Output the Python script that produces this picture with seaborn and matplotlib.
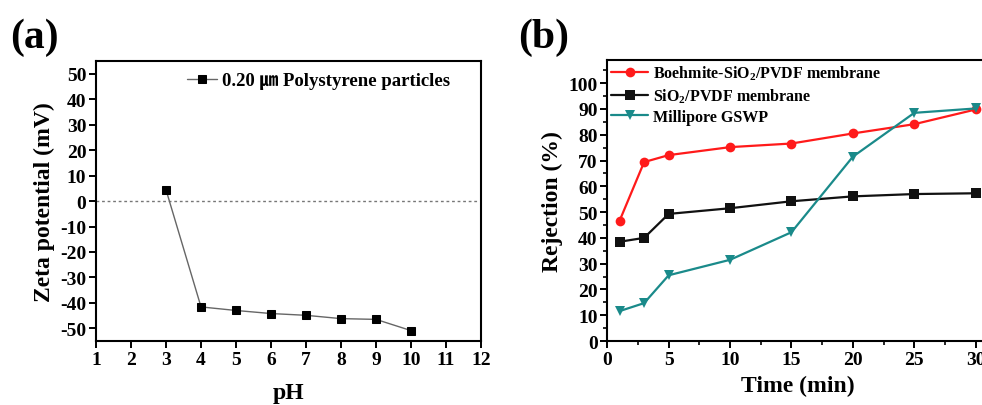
import matplotlib
matplotlib.use("Agg")
import matplotlib.pyplot as plt
from matplotlib.ticker import MultipleLocator
import seaborn as sns
import pandas as pd

# Zeta potential of polystyrene particles vs pH
ph = [3, 4, 5, 6, 7, 8, 9, 10]
zeta = [4.4, -41.6, -43.0, -44.2, -44.9, -46.2, -46.5, -50.9]

# Rejection over filtration time
time_min = [1, 3, 5, 10, 15, 20, 25, 30]
rej_boehmite = [46.6, 69.4, 72.1, 75.2, 76.6, 80.5, 84.1, 89.8]
rej_sio2 = [38.5, 40.0, 49.3, 51.5, 54.2, 56.1, 57.0, 57.3]
rej_millipore = [11.6, 14.7, 25.5, 31.5, 42.2, 71.5, 88.5, 90.2]

label_ps = "0.20 \u339b Polystyrene particles"
label_boehmite = "Boehmite-SiO$_2$/PVDF membrane"
label_sio2 = "SiO$_2$/PVDF membrane"
label_millipore = "Millipore GSWP"

sns.set_theme(style="ticks")
plt.rcParams["font.family"] = ["Liberation Serif", "Noto Sans CJK SC", "DejaVu Sans"]
plt.rcParams["font.weight"] = "bold"
plt.rcParams["axes.labelweight"] = "bold"
plt.rcParams["axes.unicode_minus"] = False
plt.rcParams["text.color"] = "black"
plt.rcParams["axes.labelcolor"] = "black"
plt.rcParams["xtick.color"] = "black"
plt.rcParams["ytick.color"] = "black"
plt.rcParams["xtick.labelcolor"] = "black"
plt.rcParams["ytick.labelcolor"] = "black"
plt.rcParams["mathtext.fontset"] = "custom"
plt.rcParams["mathtext.rm"] = "Liberation Serif:bold"
plt.rcParams["mathtext.bf"] = "Liberation Serif:bold"
plt.rcParams["mathtext.default"] = "rm"

fig = plt.figure(figsize=(9.82, 4.06), dpi=100)
ax_a = fig.add_axes([0.0978, 0.1576, 0.392, 0.6894])
ax_b = fig.add_axes([0.6184, 0.1576, 0.3877, 0.6922])

def style_axes(ax):
    for side in ("top", "right", "left", "bottom"):
        ax.spines[side].set_visible(True)
        ax.spines[side].set_linewidth(1.5)
        ax.spines[side].set_color("black")
    ax.tick_params(which="major", direction="out", length=5, width=1.4,
                   labelsize=14, colors="black", top=False, right=False, pad=2)
    ax.tick_params(which="minor", direction="out", length=3, width=1.2,
                   top=False, right=False)
    plt.setp(ax.get_xticklabels() + ax.get_yticklabels(), fontweight="bold")

# Panel (a)
df_a = pd.DataFrame({"pH": ph, "zeta": zeta})
ax_a.axhline(0, color="#777777", lw=1.0, ls=(0, (2, 2)), xmax=0.99)
sns.lineplot(data=df_a, x="pH", y="zeta", ax=ax_a, color="#666666", lw=1.0,
             marker="s", markersize=5.5, markerfacecolor="black",
             markeredgecolor="black", label=label_ps)
ax_a.set_xlim(1, 12)
ax_a.set_ylim(-55, 55)
ax_a.xaxis.set_major_locator(MultipleLocator(1))
ax_a.yaxis.set_major_locator(MultipleLocator(10))
ax_a.set_xlabel("pH", fontsize=17, fontweight="bold", labelpad=10)
ax_a.set_ylabel("Zeta potential (mV)", fontsize=17, fontweight="bold", labelpad=4)
style_axes(ax_a)
leg_a = ax_a.legend(loc="upper right", frameon=False, fontsize=13.5,
                    handlelength=1.6, handletextpad=0.3,
                    borderaxespad=0.2, bbox_to_anchor=(0.95, 1.0))
for t in leg_a.get_texts():
    t.set_fontweight("bold")

# Panel (b)
df_b = pd.DataFrame({
    "time": time_min * 3,
    "rej": rej_boehmite + rej_sio2 + rej_millipore,
    "series": [label_boehmite] * 8 + [label_sio2] * 8 + [label_millipore] * 8,
})
palette = {label_boehmite: "#ff1a1a", label_sio2: "#111111", label_millipore: "#1a8a8a"}
markers = {label_boehmite: "o", label_sio2: "s", label_millipore: "v"}
sns.lineplot(data=df_b, x="time", y="rej", hue="series", style="series",
             palette=palette, markers=markers, dashes=False, ax=ax_b,
             lw=1.6, markersize=7, markeredgewidth=0)
ax_b.set_xlim(0, 31)
ax_b.set_ylim(0, 109)
ax_b.xaxis.set_major_locator(MultipleLocator(5))
ax_b.xaxis.set_minor_locator(MultipleLocator(2.5))
ax_b.yaxis.set_major_locator(MultipleLocator(10))
ax_b.yaxis.set_minor_locator(MultipleLocator(5))
ax_b.set_xlabel("Time (min)", fontsize=17, fontweight="bold", labelpad=5)
ax_b.set_ylabel("Rejection (%)", fontsize=17, fontweight="bold", labelpad=4)
style_axes(ax_b)
leg_b = ax_b.legend(loc="upper left", frameon=False, fontsize=11.5,
                    handlelength=2.3, handletextpad=0.3, labelspacing=0.25,
                    borderaxespad=0.0, borderpad=0.25, title=None)
for t in leg_b.get_texts():
    t.set_fontweight("bold")

fig.text(0.010, 0.955, "(a)", fontsize=30, fontweight="bold", va="top", ha="left")
fig.text(0.528, 0.955, "(b)", fontsize=30, fontweight="bold", va="top", ha="left")

fig.savefig("out.png", dpi=100, facecolor="white")
